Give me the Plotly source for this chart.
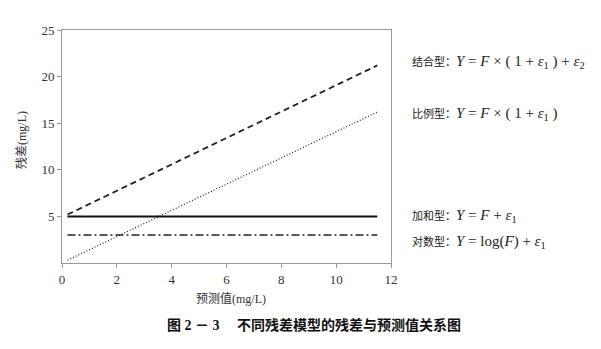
import plotly.graph_objects as go

# Data
pred = [0.2, 11.5]
combined = [5.2, 21.2]
proportional = [0.3, 16.2]
additive = [5.0, 5.0]
logarithmic = [3.0, 3.0]

x_ticks = [0, 2, 4, 6, 8, 10, 12]
y_ticks = [5, 10, 15, 20, 25]

FONT = "Liberation Serif, Noto Sans CJK SC, serif"

fig = go.Figure()
fig.add_trace(go.Scatter(x=pred, y=combined, mode="lines",
                         line=dict(color="#222", width=1.8, dash="6px,4px")))
fig.add_trace(go.Scatter(x=pred, y=proportional, mode="lines",
                         line=dict(color="#222", width=1.2, dash="1px,2px")))
fig.add_trace(go.Scatter(x=pred, y=additive, mode="lines",
                         line=dict(color="#111", width=2)))
fig.add_trace(go.Scatter(x=pred, y=logarithmic, mode="lines",
                         line=dict(color="#222", width=1.5, dash="8px,3px,2px,3px")))

axis_common = dict(showline=True, linecolor="#999", linewidth=1, mirror=True,
                   ticks="outside", ticklen=4, tickcolor="#999", showgrid=False,
                   zeroline=False, tickfont=dict(family=FONT, size=13, color="#333"))

fig.update_xaxes(range=[0, 12], tickvals=x_ticks, **axis_common)
fig.update_yaxes(range=[0, 25], tickvals=y_ticks, **axis_common)


def lab(cn, formula):
    return (f'<span style="font-size:11px">{cn}</span>'
            f'<span style="font-size:15px">{formula}</span>')


S = "&nbsp;"
eps1 = "<i>ε</i><sub>1</sub>"
eps2 = "<i>ε</i><sub>2</sub>"
ann = [
    dict(x=410, y=62, text=lab("结合型：", f"<i>Y</i> = <i>F</i> × ({S}1 + {eps1}{S}) + {eps2}")),
    dict(x=410, y=114, text=lab("比例型：", f"<i>Y</i> = <i>F</i> × ({S}1 + {eps1}{S})")),
    dict(x=410, y=216, text=lab("加和型：", f"<i>Y</i> = <i>F</i> + {eps1}")),
    dict(x=410, y=242, text=lab("对数型：", f"<i>Y</i> = log(<i>F</i>) + {eps1}")),
]

L, R, T, B = 62, 601 - 391, 30, 349 - 263
W, H = 601 - L - R, 349 - T - B


def px2paper(px, py):
    return (px - L) / W, 1 - (py - T) / H


annotations = []
for a in ann:
    x, y = px2paper(a["x"], a["y"])
    annotations.append(dict(x=x, y=y, xref="paper", yref="paper",
                            text=a["text"], showarrow=False, xanchor="left", yanchor="middle",
                            font=dict(family=FONT, size=15, color="#222")))

x, y = px2paper(22, 140)
annotations.append(dict(x=x, y=y, xref="paper", yref="paper", xanchor="center", yanchor="middle",
                        text="残差(mg/L)", textangle=-90, showarrow=False,
                        font=dict(family=FONT, size=12, color="#333")))
x, y = px2paper(231, 298)
annotations.append(dict(x=x, y=y, xref="paper", yref="paper", xanchor="center", yanchor="middle",
                        text="预测值(mg/L)", showarrow=False,
                        font=dict(family=FONT, size=12, color="#333")))
x, y = px2paper(314, 325)
annotations.append(dict(x=x, y=y, xref="paper", yref="paper", xanchor="center", yanchor="middle",
                        text="<b>图 2 － 3　 不同残差模型的残差与预测值关系图</b>", showarrow=False,
                        font=dict(family=FONT, size=14, color="#111")))

fig.update_layout(
    width=601, height=349,
    margin=dict(l=L, r=R, t=T, b=B),
    paper_bgcolor="white", plot_bgcolor="white",
    showlegend=False,
    annotations=annotations,
)

fig.write_html("out.html")
